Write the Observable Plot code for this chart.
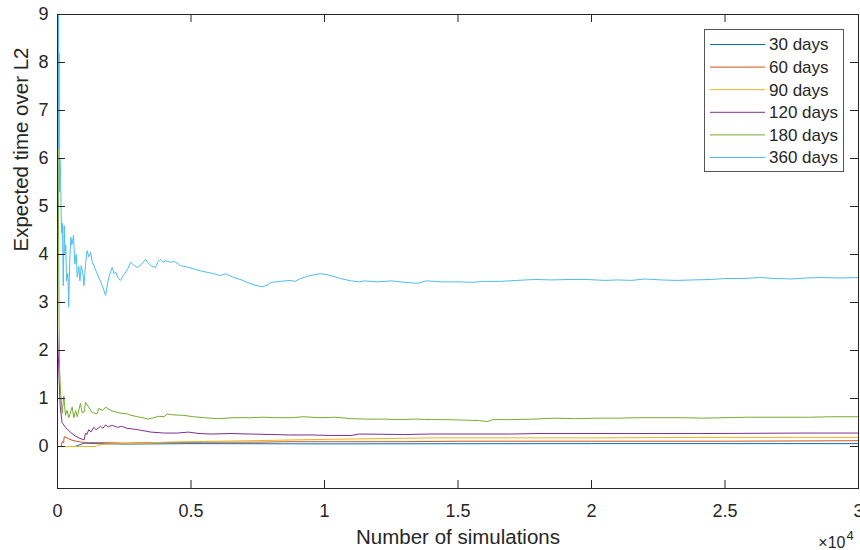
<!DOCTYPE html>
<html><head><meta charset="utf-8">
<script src="https://cdn.jsdelivr.net/npm/d3@7"></script>
<script src="https://cdn.jsdelivr.net/npm/@observablehq/plot@0.6"></script>
<style>body{margin:0;background:#fff} svg{display:block}</style>
</head><body><div id="chart"></div>
<script>
const seriesNames = ["30 days", "60 days", "90 days", "120 days", "180 days", "360 days"];
const seriesColors = ["#0072BD", "#D95319", "#EDB120", "#7E2F8E", "#77AC30", "#4DBEEE"];
const xTicks = [0, 5000, 10000, 15000, 20000, 25000, 30000];
const yTicks = [0, 1, 2, 3, 4, 5, 6, 7, 8, 9];
const xDomain = [0, 30000];
const yDomain = [-0.875, 9];
const xLabel = "Number of simulations";
const yLabel = "Expected time over L2";

const d30 = [[0,0],[650,0],[800,0.03],[1000,0.07],[1400,0.06],[2500,0.05],[5000,0.06],[10000,0.055],[20000,0.06],[30000,0.06]];
const d60 = [[0,0],[150,0],[170,0.1],[230,0.08],[250,0.2],[320,0.19],[420,0.16],[550,0.13],[700,0.11],[900,0.09],[1200,0.08],[1800,0.08],[2500,0.07],[3500,0.08],[5500,0.09],[7500,0.09],[8500,0.1],[11000,0.1],[13000,0.1],[15000,0.11],[20000,0.11],[25000,0.11],[30000,0.12]];
const d90 = [[0,0],[1450,0],[1500,0.03],[1800,0.05],[2500,0.06],[3200,0.07],[4100,0.09],[5000,0.1],[6000,0.11],[7200,0.12],[8200,0.13],[9100,0.14],[10200,0.15],[11500,0.16],[12800,0.17],[14000,0.18],[17000,0.18],[20000,0.18],[24000,0.19],[30000,0.19]];
const d120 = [[0,2.4],[30,1.9],[60,1.4],[100,0.85],[170,0.5],[300,0.4],[480,0.3],[660,0.22],[800,0.18],[925,0.15],[1000,0.14],[1050,0.28],[1100,0.25],[1170,0.35],[1250,0.3],[1360,0.4],[1450,0.35],[1610,0.42],[1700,0.38],[1800,0.45],[1900,0.41],[2050,0.44],[2250,0.4],[2400,0.42],[2600,0.38],[2750,0.37],[3000,0.35],[3300,0.32],[3500,0.3],[4000,0.28],[4500,0.28],[4900,0.3],[5300,0.27],[5800,0.26],[6500,0.27],[7200,0.26],[8000,0.25],[8700,0.24],[9500,0.24],[10200,0.23],[11000,0.23],[11300,0.26],[13000,0.25],[14000,0.26],[17000,0.26],[18000,0.27],[24000,0.27],[28000,0.28],[30000,0.28]];
const d180 = [[0,8.6],[20,6.5],[40,4.5],[60,2.5],[80,1.6],[112,1.17],[175,0.69],[237,1.05],[300,0.65],[355,0.75],[425,0.6],[550,0.82],[610,0.6],[680,0.75],[740,0.62],[860,0.9],[925,0.7],[1000,0.72],[1050,0.92],[1170,0.82],[1300,0.71],[1480,0.68],[1540,0.79],[1700,0.75],[1800,0.82],[2000,0.75],[2300,0.7],[2600,0.68],[2750,0.65],[3000,0.62],[3200,0.6],[3400,0.57],[3600,0.6],[3800,0.63],[4000,0.62],[4100,0.68],[4300,0.66],[4700,0.65],[5100,0.62],[5500,0.6],[6000,0.58],[6600,0.6],[7200,0.6],[7700,0.61],[8200,0.6],[8800,0.6],[9200,0.62],[9800,0.6],[10400,0.61],[11000,0.58],[11600,0.57],[12200,0.57],[12800,0.56],[13400,0.57],[14000,0.56],[14600,0.56],[15200,0.55],[15800,0.54],[16100,0.52],[16300,0.56],[17000,0.56],[17800,0.57],[18600,0.59],[19400,0.58],[20200,0.59],[21000,0.59],[21800,0.6],[23400,0.6],[24200,0.59],[25000,0.6],[25800,0.61],[28200,0.61],[29000,0.62],[30000,0.62]];
const d360 = [[0,9.6],[15,7.0],[30,9.3],[45,6.2],[60,8.2],[75,5.3],[90,6.0],[112,5.75],[137,4.85],[160,4.45],[185,4.65],[215,3.35],[250,4.6],[280,4.0],[310,4.2],[340,3.45],[390,3.6],[420,2.9],[460,3.9],[500,4.36],[540,4.2],[600,4.4],[650,3.8],[700,4.0],[740,3.53],[800,3.75],[840,3.45],[890,3.77],[950,3.6],[990,3.35],[1050,3.8],[1110,4.08],[1170,3.95],[1240,4.05],[1300,3.85],[1360,3.77],[1450,3.65],[1550,3.52],[1680,3.35],[1800,3.15],[1880,3.4],[1920,3.52],[2000,3.65],[2050,3.73],[2120,3.6],[2180,3.63],[2280,3.5],[2360,3.46],[2450,3.55],[2550,3.63],[2650,3.72],[2740,3.84],[2850,3.78],[2990,3.73],[3100,3.77],[3300,3.9],[3400,3.82],[3490,3.77],[3670,3.73],[3760,3.85],[3860,3.9],[3950,3.84],[4050,3.87],[4230,3.84],[4400,3.85],[4600,3.77],[4850,3.74],[5100,3.7],[5350,3.66],[5600,3.63],[5850,3.6],[6100,3.56],[6300,3.6],[6600,3.52],[6900,3.47],[7100,3.42],[7400,3.36],[7650,3.33],[7850,3.36],[8000,3.42],[8350,3.44],[8700,3.46],[8900,3.44],[9100,3.5],[9450,3.56],[9850,3.6],[10100,3.58],[10300,3.55],[10600,3.5],[11000,3.45],[11300,3.43],[11500,3.45],[12000,3.43],[12500,3.45],[13000,3.42],[13500,3.4],[13800,3.45],[14400,3.43],[15000,3.43],[15500,3.42],[16000,3.44],[16600,3.44],[17200,3.46],[17900,3.48],[18500,3.47],[19200,3.48],[19800,3.48],[20500,3.46],[21000,3.47],[21500,3.46],[22000,3.49],[22600,3.47],[23200,3.46],[23800,3.47],[24500,3.48],[25000,3.5],[25700,3.5],[26300,3.52],[26900,3.5],[27500,3.49],[28000,3.51],[28600,3.52],[29300,3.51],[30000,3.52]];
const seriesData = [d30, d60, d90, d120, d180, d360];

const W = 860, H = 550, mL = 57, mR = 2, mT = 14, mB = 62;
const ink = "#262626";
const tickPx = 8;
const tLenY = tickPx * (yDomain[1] - yDomain[0]) / (H - mT - mB);
const tLenX = tickPx * (xDomain[1] - xDomain[0]) / (W - mL - mR);

const table = seriesData.flatMap((arr, i) => arr.map(([n, v]) => ({s: seriesNames[i], n, v})));

const chart = Plot.plot({
  width: W, height: H,
  marginLeft: mL, marginRight: mR, marginTop: mT, marginBottom: mB,
  style: {fontFamily: "'Liberation Sans', Arial, sans-serif", fontSize: "18px", color: ink, background: "#fff"},
  x: {domain: xDomain, label: null},
  y: {domain: yDomain, label: null},
  color: {domain: seriesNames, range: seriesColors},
  marks: [
    ...seriesNames.map(name => Plot.line(table.filter(d => d.s === name), {x: "n", y: "v", stroke: "s", strokeWidth: 1, clip: true})),
    Plot.axisX({ticks: xTicks, tickSize: 0, tickPadding: 16, tickFormat: d => String(d / 1e4), label: null, fontSize: 18}),
    Plot.axisY({ticks: yTicks, tickSize: 0, tickPadding: 9, label: null, fontSize: 18}),
    Plot.ruleX(xTicks, {x: d => d, y1: yDomain[0], y2: yDomain[0] + tLenY, stroke: ink}),
    Plot.ruleX(xTicks, {x: d => d, y1: yDomain[1] - tLenY, y2: yDomain[1], stroke: ink}),
    Plot.ruleY(yTicks, {y: d => d, x1: xDomain[0], x2: xDomain[0] + tLenX, stroke: ink}),
    Plot.ruleY(yTicks, {y: d => d, x1: xDomain[1] - tLenX, x2: xDomain[1], stroke: ink}),
    Plot.frame({stroke: ink}),
    Plot.text([xLabel], {frameAnchor: "bottom", dy: 49, fontSize: 20.5, fill: ink, lineAnchor: "middle"}),
    Plot.text([yLabel], {frameAnchor: "left", dx: -36, rotate: -90, fontSize: 20.5, fill: ink, lineAnchor: "middle"}),
    Plot.text(["×10"], {frameAnchor: "bottom-right", dx: -13, dy: 54, textAnchor: "end", lineAnchor: "middle", fontSize: 16, fill: ink}),
    Plot.text(["4"], {frameAnchor: "bottom-right", dx: -12, dy: 47, textAnchor: "start", lineAnchor: "middle", fontSize: 13, fill: ink})
  ]
});
document.getElementById("chart").appendChild(chart);

// legend inside the axes (top-right)
const svg = d3.select(chart);
const lg = svg.append("g")
  .attr("font-family", "'Liberation Sans', Arial, sans-serif")
  .attr("font-size", 17)
  .attr("fill", ink)
  .attr("text-anchor", "start");
lg.append("rect").attr("x", 704.5).attr("y", 29.5).attr("width", 139).attr("height", 142)
  .attr("fill", "#fff").attr("stroke", "#555").attr("stroke-width", 1);
seriesNames.forEach((name, i) => {
  const cy = 44.5 + i * 22.6;
  lg.append("line").attr("x1", 710).attr("x2", 765).attr("y1", cy).attr("y2", cy)
    .attr("stroke", seriesColors[i]).attr("stroke-width", 1);
  lg.append("text").attr("x", 769).attr("y", cy).attr("dy", "0.35em")
    .style("text-anchor", "start").text(name);
});
</script>
</body></html>
